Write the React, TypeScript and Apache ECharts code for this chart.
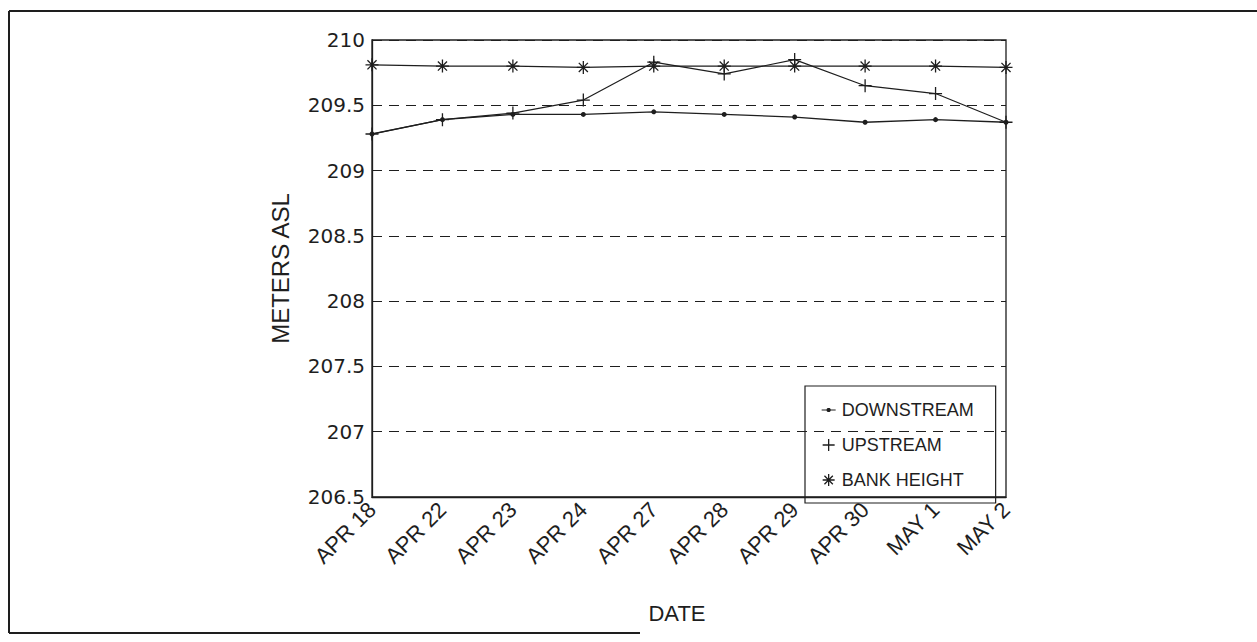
import React, { useEffect, useRef } from "react";
import * as echarts from "echarts";

const dates = ["APR 18", "APR 22", "APR 23", "APR 24", "APR 27", "APR 28", "APR 29", "APR 30", "MAY 1", "MAY 2"];
const downstream = [209.28, 209.39, 209.43, 209.43, 209.45, 209.43, 209.41, 209.37, 209.39, 209.37];
const upstream = [209.28, 209.39, 209.44, 209.54, 209.83, 209.74, 209.85, 209.65, 209.59, 209.37];
const bankHeight = [209.81, 209.80, 209.80, 209.79, 209.80, 209.80, 209.80, 209.80, 209.80, 209.79];
const yMin = 206.5;
const yMax = 210;
const yStep = 0.5;

const INK = "#1e1e1e";
const PLUS = "path://M5,0L5,10M0,5L10,5";
const STAR = "path://M5,0L5,10M0,5L10,5M1.5,1.5L8.5,8.5M1.5,8.5L8.5,1.5";
const DOT_ICON = "path://M0,0M16,14M1,6.4L15,6.4L15,7.6L1,7.6ZM7,5L9,5L10,6L10,8L9,9L7,9L6,8L6,6Z";
const PLUS_ICON = "path://M0,0M16,14M8,1L8,13M2,7L14,7";
const STAR_ICON = "path://M0,0M16,14M8,1L8,13M2,7L14,7M3.8,2.8L12.2,11.2M3.8,11.2L12.2,2.8";

export default function App() {
  const ref = useRef<HTMLDivElement>(null);
  useEffect(() => {
    if (!ref.current) return;
    const chart = echarts.init(ref.current, null, { renderer: "svg" });
    const font = "'Liberation Sans', Arial, sans-serif";
    chart.setOption({
      animation: false,
      backgroundColor: "#fff",
      textStyle: { fontFamily: font, color: INK },
      grid: {
        left: 372,
        right: 251,
        top: 40,
        bottom: 145,
        show: true,
        borderColor: INK,
        borderWidth: 1.3,
        backgroundColor: "transparent",
      },
      legend: {
        orient: "vertical",
        left: 805,
        top: 386,
        padding: [15, 22, 14, 15],
        itemGap: 17,
        itemWidth: 16,
        itemHeight: 14,
        borderColor: INK,
        borderWidth: 1.2,
        itemStyle: { borderWidth: 1.3, borderColor: INK },
        textStyle: { fontFamily: font, fontSize: 18, color: INK },
        data: [
          { name: "DOWNSTREAM", icon: DOT_ICON, itemStyle: { borderWidth: 0 } },
          { name: "UPSTREAM", icon: PLUS_ICON },
          { name: "BANK HEIGHT", icon: STAR_ICON },
        ],
      },
      xAxis: {
        type: "category",
        data: dates,
        boundaryGap: false,
        axisLine: { show: true, lineStyle: { color: INK, width: 1.3 } },
        axisTick: { show: false },
        axisLabel: {
          rotate: 45,
          margin: 9,
          fontFamily: font,
          fontSize: 22,
          color: INK,
        },
        splitLine: { show: false },
        name: "DATE",
        nameLocation: "middle",
        nameGap: 105,
        nameTextStyle: { fontFamily: font, fontSize: 22, color: INK, verticalAlign: "top", padding: [0, 24, 0, 0] },
      },
      yAxis: {
        type: "value",
        min: yMin,
        max: yMax,
        interval: yStep,
        axisLine: { show: true, lineStyle: { color: INK, width: 1.3 } },
        axisTick: { show: false },
        axisLabel: {
          margin: 7,
          fontFamily: "'DejaVu Sans', sans-serif",
          fontSize: 20,
          color: INK,
        },
        splitLine: {
          show: true,
          lineStyle: { color: INK, width: 1.2, type: [10, 7] },
        },
        name: "METERS ASL",
        nameLocation: "middle",
        nameGap: 80,
        nameRotate: 90,
        nameTextStyle: { fontFamily: font, fontSize: 24, color: INK },
      },
      series: [
        {
          name: "DOWNSTREAM",
          type: "line",
          data: downstream,
          symbol: "circle",
          symbolSize: 5,
          lineStyle: { color: INK, width: 1.3 },
          itemStyle: { color: INK },
        },
        {
          name: "UPSTREAM",
          type: "line",
          data: upstream,
          symbol: PLUS,
          symbolSize: 13,
          lineStyle: { color: INK, width: 1.2 },
          itemStyle: { color: INK, borderColor: INK, borderWidth: 1.3 },
        },
        {
          name: "BANK HEIGHT",
          type: "line",
          data: bankHeight,
          symbol: STAR,
          symbolSize: 13,
          lineStyle: { color: INK, width: 1.3 },
          itemStyle: { color: INK, borderColor: INK, borderWidth: 1.3 },
        },
      ],
      graphic: [
        { type: "line", shape: { x1: 9, y1: 11, x2: 1257, y2: 11 }, style: { stroke: INK, lineWidth: 2 } },
        { type: "line", shape: { x1: 9, y1: 11, x2: 9, y2: 633 }, style: { stroke: INK, lineWidth: 2 } },
        { type: "line", shape: { x1: 9, y1: 633, x2: 640, y2: 633 }, style: { stroke: INK, lineWidth: 2 } },
      ],
    });
    return () => chart.dispose();
  }, []);
  return (
    <div
      ref={ref}
      style={{ position: "absolute", left: 0, top: 0, width: 1257, height: 642 }}
    />
  );
}
